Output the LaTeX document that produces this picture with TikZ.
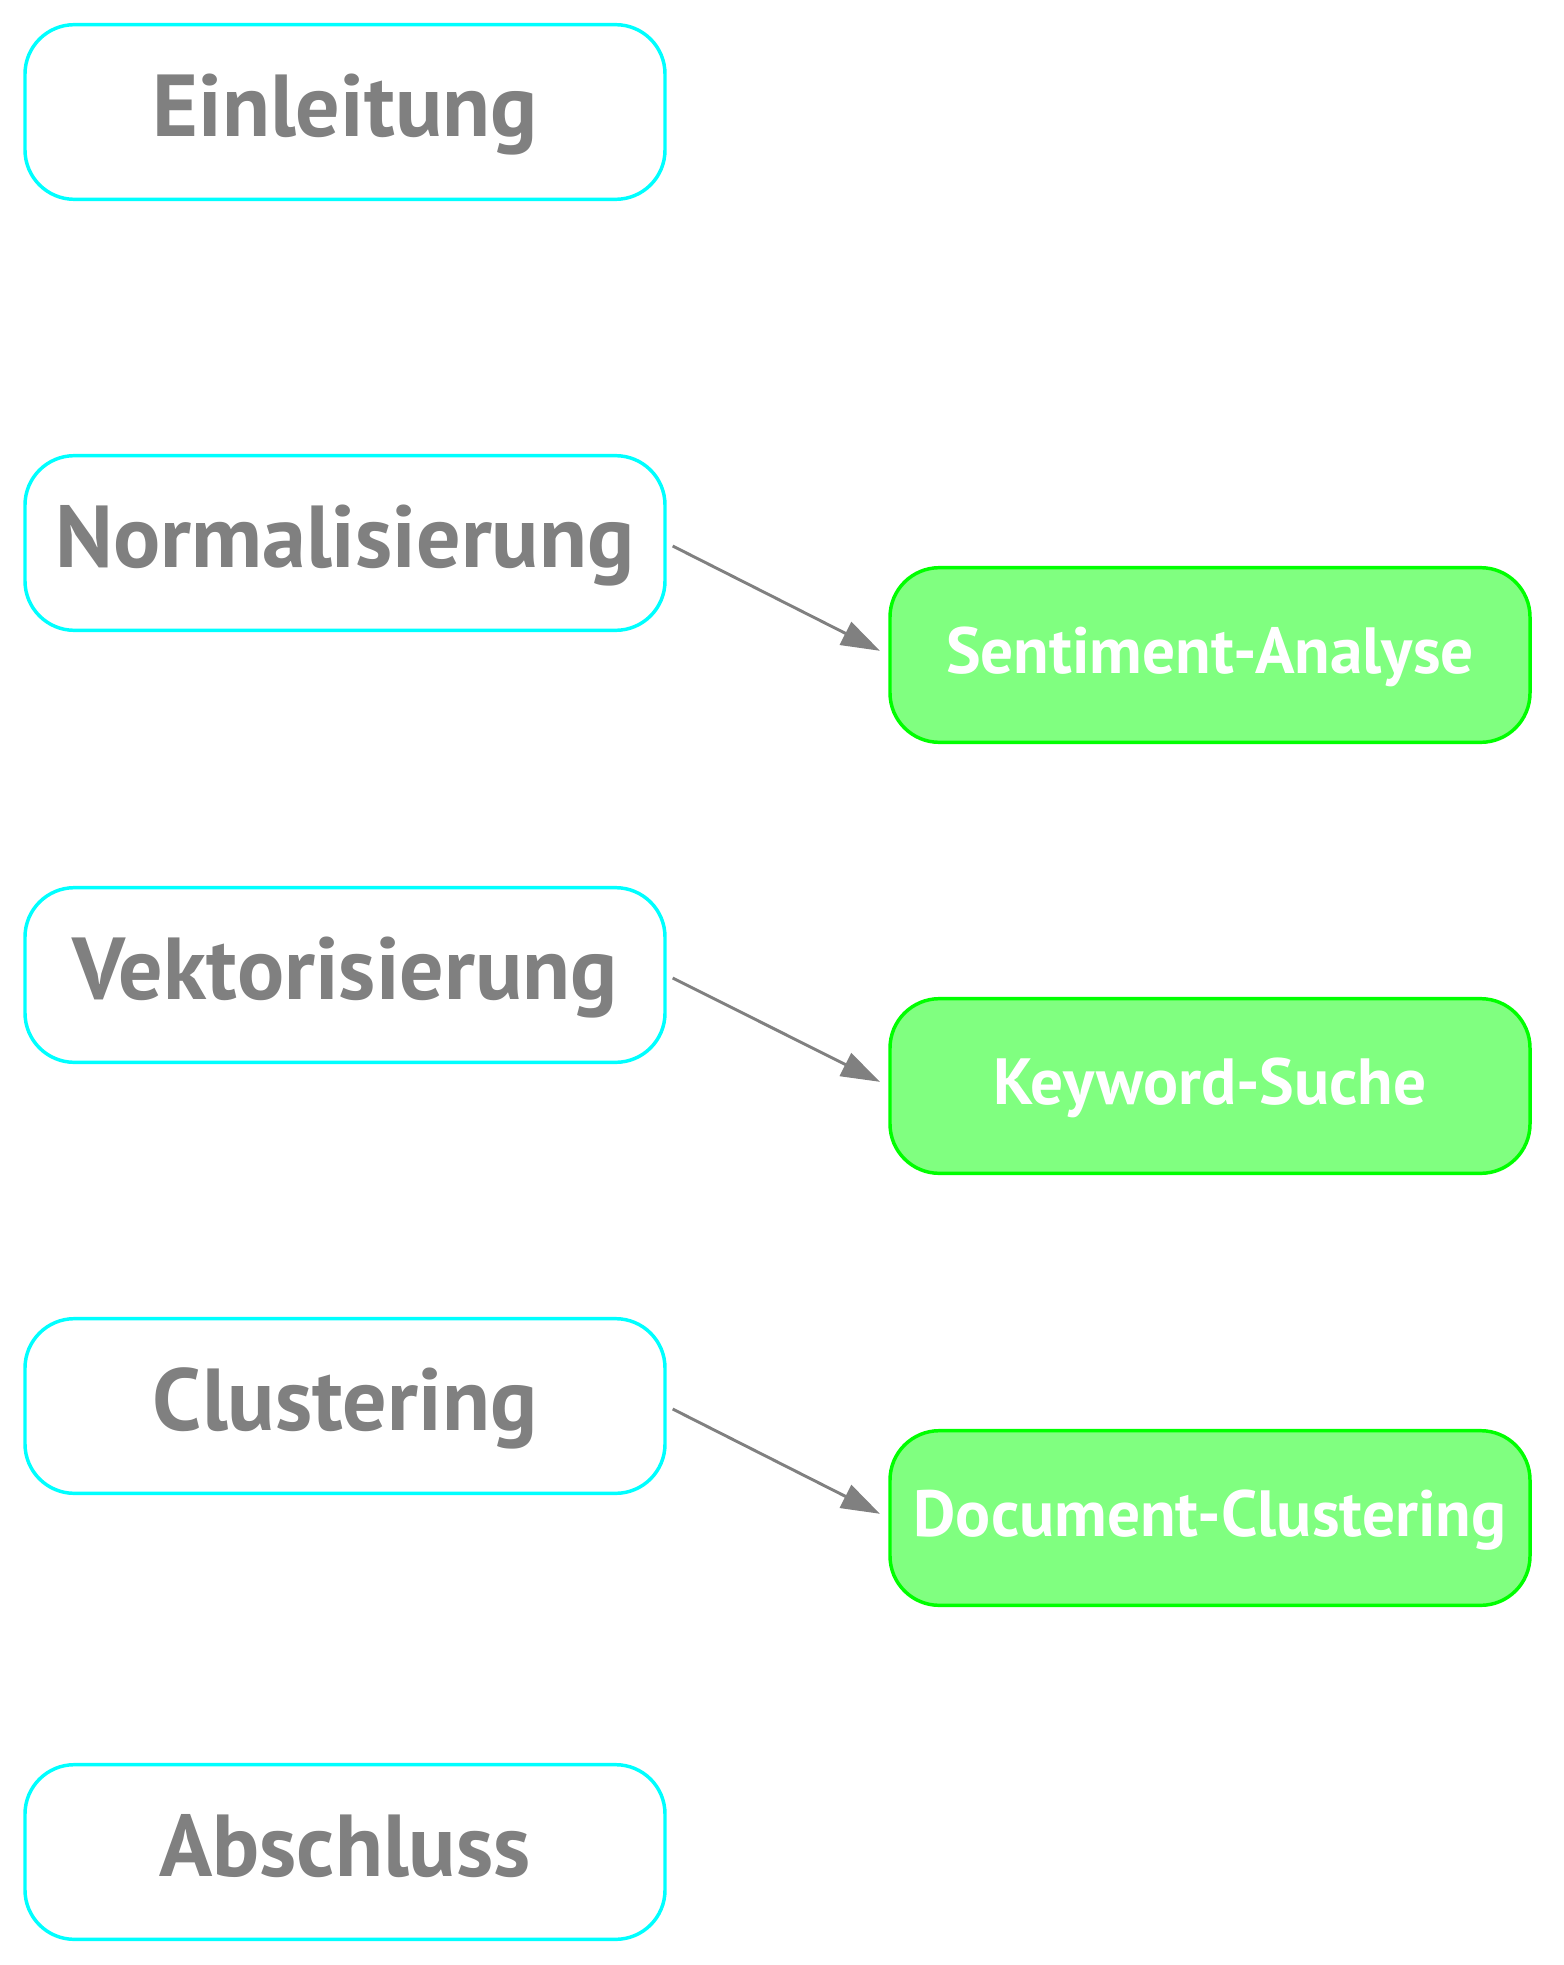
\documentclass[tikz,border=0pt]{standalone}
\usepackage{fontspec}
\setmainfont{PT Sans}
\usetikzlibrary{arrows.meta}
\definecolor{cyanb}{HTML}{00FFFF}
\definecolor{greenb}{HTML}{00FF00}
\definecolor{greenf}{HTML}{80FF80}
\definecolor{txtgray}{HTML}{808080}
\begin{document}
\begin{tikzpicture}[x=0.75pt,y=-0.75pt,
  base/.style={line width=2.6pt, rounded corners=37pt,
    minimum width=480pt, minimum height=131pt, inner sep=0pt},
  stepbox/.style={base, draw=cyanb, fill=white, text height=46pt, text depth=9pt,
    text=txtgray, font=\fontsize{66}{78}\bfseries\selectfont},
  appbox/.style={base, draw=greenb, fill=greenf, text height=34pt, text depth=6.5pt,
    text=white, font=\fontsize{49}{58}\bfseries\selectfont},
  link/.style={draw=txtgray, line width=2.2pt, -{Triangle[length=29pt,width=19pt]},
    shorten <=5pt, shorten >=7pt}]
\useasboundingbox (0,0) rectangle (1563,1965);
\node[stepbox] (ein) at (345,112) {Einleitung};
\node[stepbox] (norm) at (345,543) {Normalisierung};
\node[stepbox] (vek) at (345,975) {Vektorisierung};
\node[stepbox] (clu) at (345,1406) {Clustering};
\node[stepbox] (abs) at (345,1852) {Abschluss};
\node[appbox] (sent) at (1210,655) {Sentiment-Analyse};
\node[appbox] (key) at (1210,1086) {Keyword-Suche};
\node[appbox] (doc) at (1210,1518) {Document-Clustering};
\draw[link] (norm.east) -- (sent.west);
\draw[link] (vek.east) -- (key.west);
\draw[link] (clu.east) -- (doc.west);
\end{tikzpicture}
\end{document}
